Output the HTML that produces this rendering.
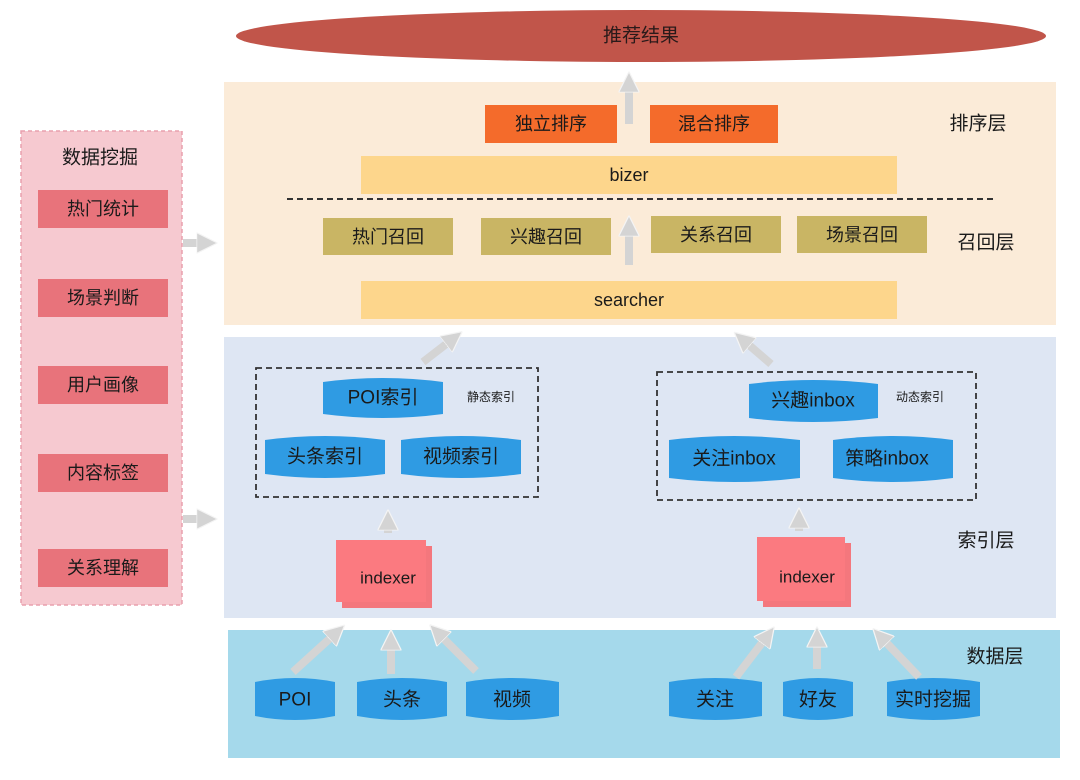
<!DOCTYPE html>
<html><head><meta charset="utf-8"><style>
html,body{margin:0;padding:0;background:#fff;}
svg{display:block;}
text{font-family:"Liberation Sans","Noto Sans CJK SC",sans-serif;fill:#1a1a1a;text-anchor:middle;dominant-baseline:central;}
</style></head><body>
<svg width="1080" height="780" viewBox="0 0 1080 780" xmlns="http://www.w3.org/2000/svg">
<defs>
<marker id="ah" viewBox="0 0 10 10" refX="5" refY="5" markerWidth="2.6" markerHeight="2.6" orient="auto" markerUnits="strokeWidth">
<path d="M0,0 L10,5 L0,10 Z" fill="#d4d4d4" stroke="#f4f4f4" stroke-width="0.6"/>
</marker>
</defs>
<!-- layers -->
<rect x="224" y="82" width="832" height="243" fill="#fbebd8"/>
<rect x="224" y="337" width="832" height="281" fill="#dee6f3"/>
<rect x="228" y="630" width="832" height="128" fill="#a5d9eb"/>
<!-- ellipse -->
<ellipse cx="641" cy="36" rx="405" ry="26" fill="#c1554a"/>
<text x="641" y="36" font-size="19" style="fill:#2a1a1a">推荐结果</text>
<!-- left panel -->
<rect x="21" y="131" width="161" height="474" fill="#f6c9d0" stroke="#e9a0ae" stroke-width="1.5" stroke-dasharray="4,3"/>
<text x="100" y="158" font-size="19">数据挖掘</text>
<g font-size="18">
<rect x="38" y="190" width="130" height="38" fill="#e8737b"/><text x="103" y="209">热门统计</text>
<rect x="38" y="279" width="130" height="38" fill="#e8737b"/><text x="103" y="298">场景判断</text>
<rect x="38" y="366" width="130" height="38" fill="#e8737b"/><text x="103" y="385">用户画像</text>
<rect x="38" y="454" width="130" height="38" fill="#e8737b"/><text x="103" y="473">内容标签</text>
<rect x="38" y="549" width="130" height="38" fill="#e8737b"/><text x="103" y="568">关系理解</text>
</g>
<!-- ranking -->
<g font-size="18">
<rect x="485" y="105" width="132" height="38" fill="#f46b2b"/><text x="551" y="124">独立排序</text>
<rect x="650" y="105" width="128" height="38" fill="#f46b2b"/><text x="714" y="124">混合排序</text>
<rect x="361" y="156" width="536" height="38" fill="#fdd68c"/><text x="629" y="175">bizer</text>
<rect x="323" y="218" width="130" height="37" fill="#c9b564"/><text x="388" y="237">热门召回</text>
<rect x="481" y="218" width="130" height="37" fill="#c9b564"/><text x="546" y="237">兴趣召回</text>
<rect x="651" y="216" width="130" height="37" fill="#c9b564"/><text x="716" y="235">关系召回</text>
<rect x="797" y="216" width="130" height="37" fill="#c9b564"/><text x="862" y="235">场景召回</text>
<rect x="361" y="281" width="536" height="38" fill="#fdd68c"/><text x="629" y="300">searcher</text>
</g>
<line x1="287" y1="199" x2="997" y2="199" stroke="#333" stroke-width="2" stroke-dasharray="6,4"/>
<g font-size="19">
<text x="978" y="124">排序层</text>
<text x="986" y="243">召回层</text>
<text x="986" y="541">索引层</text>
<text x="995" y="657">数据层</text>
</g>
<!-- dashed boxes -->
<rect x="256" y="368" width="282" height="129" fill="none" stroke="#333" stroke-width="1.8" stroke-dasharray="6,4"/>
<rect x="657" y="372" width="319" height="128" fill="none" stroke="#333" stroke-width="1.8" stroke-dasharray="6,4"/>
<text x="491" y="397" font-size="12">静态索引</text>
<text x="920" y="397" font-size="12">动态索引</text>
<!-- cylinders -->
<g fill="#2f9be3" font-size="19">
<path d="M323,382 Q383,374 443,382 V414 Q383,422 323,414 Z"/>
<path d="M265,440 Q325,432 385,440 V474 Q325,482 265,474 Z"/>
<path d="M401,440 Q461,432 521,440 V474 Q461,482 401,474 Z"/>
<path d="M749,384 Q813,376 878,384 V418 Q813,426 749,418 Z"/>
<path d="M669,440 Q734,432 800,440 V478 Q734,486 669,478 Z"/>
<path d="M833,440 Q893,432 953,440 V478 Q893,486 833,478 Z"/>
<path d="M255,682 Q295,674 335,682 V716 Q295,724 255,716 Z"/>
<path d="M357,682 Q402,674 447,682 V716 Q402,724 357,716 Z"/>
<path d="M466,682 Q512,674 559,682 V716 Q512,724 466,716 Z"/>
<path d="M669,682 Q715,674 762,682 V716 Q715,724 669,716 Z"/>
<path d="M783,682 Q818,674 853,682 V716 Q818,724 783,716 Z"/>
<path d="M887,682 Q933,674 980,682 V716 Q933,724 887,716 Z"/>
</g>
<g font-size="19">
<text x="383" y="398">POI索引</text>
<text x="325" y="457">头条索引</text>
<text x="461" y="457">视频索引</text>
<text x="813" y="401">兴趣inbox</text>
<text x="734" y="459">关注inbox</text>
<text x="887" y="459">策略inbox</text>
<text x="295" y="700">POI</text>
<text x="402" y="700">头条</text>
<text x="512" y="700">视频</text>
<text x="715" y="700">关注</text>
<text x="818" y="700">好友</text>
<text x="933" y="700">实时挖掘</text>
</g>
<!-- indexers -->
<rect x="342" y="546" width="90" height="62" fill="#f4777d"/>
<rect x="336" y="540" width="90" height="62" fill="#fb7a80"/>
<text x="388" y="578" font-size="17">indexer</text>
<rect x="763" y="543" width="88" height="64" fill="#f4777d"/>
<rect x="757" y="537" width="88" height="64" fill="#fb7a80"/>
<text x="807" y="577" font-size="17">indexer</text>
<!-- arrows -->
<g stroke="#d4d4d4" stroke-width="8" fill="none" marker-end="url(#ah)">
<line x1="629" y1="124" x2="629" y2="82"/>
<line x1="629" y1="265" x2="629" y2="226"/>
<line x1="183" y1="243" x2="207" y2="243"/>
<line x1="183" y1="519" x2="207" y2="519"/>
<line x1="423" y1="362" x2="454" y2="338"/>
<line x1="771" y1="364" x2="742" y2="339"/>
<line x1="388" y1="533" x2="388" y2="520"/>
<line x1="799" y1="531" x2="799" y2="518"/>
<line x1="293" y1="672" x2="337" y2="632"/>
<line x1="391" y1="674" x2="391" y2="640"/>
<line x1="476" y1="671" x2="437" y2="632"/>
<line x1="736" y1="677" x2="768" y2="635"/>
<line x1="817" y1="669" x2="817" y2="637"/>
<line x1="919" y1="677" x2="880" y2="636"/>
</g>
</svg>
</body></html>
